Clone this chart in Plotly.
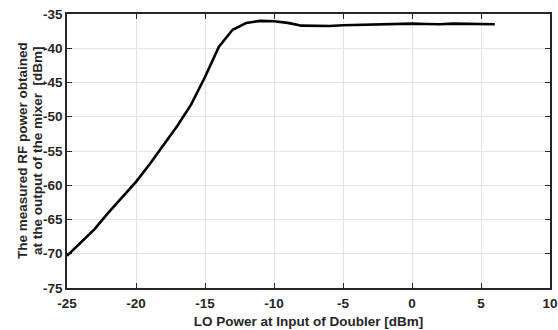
import plotly.graph_objects as go

lo_power = [-25, -24, -23, -22, -21, -20, -19, -18, -17, -16, -15, -14, -13, -12, -11, -10,
            -9, -8, -7, -6, -5, -4, -3, -2, -1, 0, 1, 2, 3, 4, 5, 6]
rf_power = [-70.3, -68.4, -66.4, -64.0, -61.8, -59.5, -56.9, -54.1, -51.3, -48.2, -44.2, -39.8,
            -37.3, -36.3, -36.0, -36.05, -36.3, -36.7, -36.75, -36.75, -36.65, -36.6, -36.5,
            -36.5, -36.45, -36.4, -36.45, -36.5, -36.4, -36.4, -36.4, -36.5]

x_ticks = [-25, -20, -15, -10, -5, 0, 5, 10]
y_ticks = [-75, -70, -65, -60, -55, -50, -45, -40, -35]

y_title_lines = ["The measured RF power obtained", "at the output of the mixer  [dBm]"]
x_title = "LO Power at Input of Doubler [dBm]"

font = "Liberation Sans, Arial, sans-serif"
txt = "#262626"

fig = go.Figure()
fig.add_trace(go.Scatter(x=lo_power, y=rf_power, mode="lines",
                         line=dict(color="black", width=2.6), showlegend=False))

axis_common = dict(showline=True, linecolor=txt, linewidth=1.5, mirror="ticks",
                   ticks="inside", ticklen=5, tickwidth=1.2, tickcolor=txt,
                   showgrid=True, gridcolor="#e3e3e3", gridwidth=1, zeroline=False,
                   automargin=False,
                   tickfont=dict(family=font, size=13.5, color=txt, weight="bold"))

L, R, T, B = 67, 8, 14, 42
pw = 558 - L - R

annotations = []
for i, (line, xc) in enumerate(zip(y_title_lines, [22, 37])):
    annotations.append(dict(text="<b>%s</b>" % line, xref="paper", yref="paper",
                            x=(xc - L) / pw, y=0.5, xanchor="center", yanchor="middle",
                            textangle=-90, showarrow=False,
                            font=dict(family=font, size=13.5, color=txt)))

fig.update_layout(
    width=558, height=330,
    margin=dict(l=L, r=R, t=T, b=B),
    paper_bgcolor="white", plot_bgcolor="white",
    xaxis=dict(range=[-25, 10], tickvals=x_ticks, ticktext=[str(v) for v in x_ticks],
               ticklabelstandoff=2,
               title=dict(text="<b>%s</b>" % x_title,
                          font=dict(family=font, size=13.5, color=txt), standoff=7),
               **axis_common),
    yaxis=dict(range=[-75, -35], tickvals=y_ticks, ticktext=[str(v) for v in y_ticks],
               **axis_common),
    annotations=annotations,
)

fig.write_html("out.html")
